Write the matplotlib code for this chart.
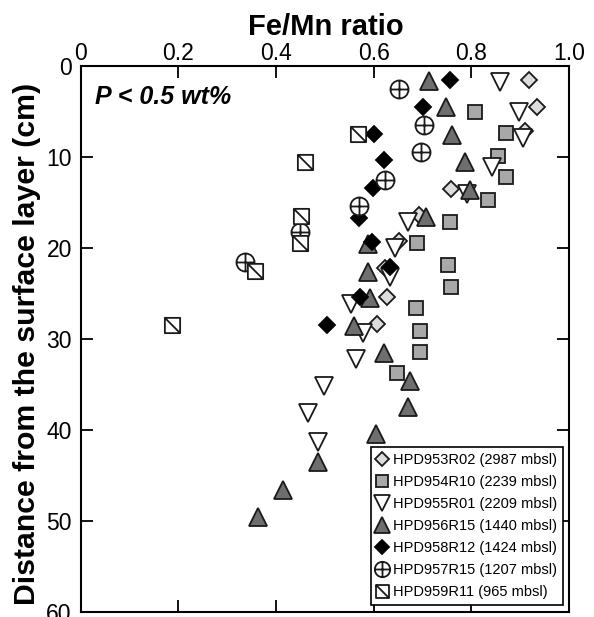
import matplotlib.pyplot as plt
from matplotlib.path import Path

plt.rcParams['font.family'] = ['Liberation Sans', 'DejaVu Sans']

# Fe/Mn ratio (x) and depth in cm (y) for each dive
hpd953_x = [0.917, 0.934, 0.909, 0.759, 0.693, 0.652, 0.623, 0.628, 0.607]
hpd953_y = [1.5, 4.5, 7.1, 13.5, 16.4, 19.2, 22.2, 25.4, 28.4]

hpd954_x = [0.808, 0.871, 0.854, 0.871, 0.835, 0.756, 0.688, 0.752, 0.759,
            0.686, 0.695, 0.695, 0.648]
hpd954_y = [5.1, 7.4, 9.9, 12.2, 14.7, 17.1, 19.5, 21.9, 24.3,
            26.6, 29.1, 31.4, 33.8]

hpd955_x = [0.858, 0.897, 0.905, 0.842, 0.791, 0.671, 0.644, 0.633, 0.553,
            0.579, 0.563, 0.499, 0.466, 0.486]
hpd955_y = [1.8, 5.1, 7.9, 11.1, 14.1, 17.2, 20.0, 23.2, 26.2,
            29.3, 32.2, 35.2, 38.2, 41.3]

hpd956_x = [0.713, 0.747, 0.760, 0.786, 0.798, 0.708, 0.588, 0.588, 0.593,
            0.559, 0.621, 0.674, 0.670, 0.604, 0.485, 0.414, 0.363]
hpd956_y = [1.6, 4.5, 7.6, 10.6, 13.6, 16.6, 19.6, 22.6, 25.5,
            28.6, 31.6, 34.6, 37.5, 40.5, 43.5, 46.6, 49.6]

hpd958_x = [0.756, 0.701, 0.601, 0.621, 0.599, 0.570, 0.597, 0.633, 0.572, 0.505]
hpd958_y = [1.5, 4.5, 7.5, 10.3, 13.4, 16.7, 19.4, 22.1, 25.4, 28.5]

hpd957_x = [0.652, 0.703, 0.697, 0.624, 0.569, 0.448, 0.337]
hpd957_y = [2.5, 6.5, 9.4, 12.5, 15.4, 18.3, 21.5]

hpd959_x = [0.567, 0.459, 0.452, 0.448, 0.357, 0.187]
hpd959_y = [7.5, 10.5, 16.5, 19.5, 22.5, 28.5]

labels = ['HPD953R02 (2987 mbsl)', 'HPD954R10 (2239 mbsl)', 'HPD955R01 (2209 mbsl)',
          'HPD956R15 (1440 mbsl)', 'HPD958R12 (1424 mbsl)', 'HPD957R15 (1207 mbsl)',
          'HPD959R11 (965 mbsl)']

# custom markers: circle with a cross, square with a diagonal
M, L, C = Path.MOVETO, Path.LINETO, Path.CLOSEPOLY
circ = Path.unit_circle()
plus = Path([[-1, 0], [1, 0], [0, -1], [0, 1]], [M, L, M, L])
circle_plus = Path.make_compound_path(circ, plus)
sq_slash = Path([[-1, -1], [1, -1], [1, 1], [-1, 1], [-1, -1], [-1, 1], [1, -1]],
                [M, L, L, L, C, M, L])

ec = '#1a1a1a'
lw = 1.3

fig = plt.figure(figsize=(5.94, 6.17), dpi=100)
ax = fig.add_axes([0.136, 0.0085, 0.822, 0.8845])

ax.plot(hpd953_x, hpd953_y, ls='none', marker='D', ms=8, mfc='#dcdcdc', mec=ec, mew=lw, label=labels[0])
ax.plot(hpd954_x, hpd954_y, ls='none', marker='s', ms=10, mfc='#a8a8a8', mec=ec, mew=lw, label=labels[1])
ax.plot(hpd955_x, hpd955_y, ls='none', marker='v', ms=13, mfc='white', mec=ec, mew=lw, label=labels[2])
ax.plot(hpd956_x, hpd956_y, ls='none', marker='^', ms=13, mfc='#6e6e6e', mec=ec, mew=lw, label=labels[3])
ax.plot(hpd958_x, hpd958_y, ls='none', marker='D', ms=8, mfc='black', mec='black', mew=lw, label=labels[4])
ax.plot(hpd957_x, hpd957_y, ls='none', marker=circle_plus, ms=13, mfc='white', mec=ec, mew=lw, label=labels[5])
ax.plot(hpd959_x, hpd959_y, ls='none', marker=sq_slash, ms=11, mfc='white', mec=ec, mew=lw, label=labels[6])

ax.set_xlim(0, 1.0)
ax.set_ylim(60, 0)
ax.set_xticks([0, 0.2, 0.4, 0.6, 0.8, 1.0])
ax.set_xticklabels(['0', '0.2', '0.4', '0.6', '0.8', '1.0'])
ax.set_yticks(range(0, 61, 10))
ax.tick_params(direction='in', top=True, bottom=True, left=True, right=True,
               labeltop=True, labelbottom=False, length=8.5, width=1.3, labelsize=16.5)
ax.tick_params(axis='x', pad=0.5)
ax.tick_params(axis='y', pad=6.5)
for s in ax.spines.values():
    s.set_linewidth(1.5)

ax.xaxis.set_label_position('top')
ax.set_xlabel('Fe/Mn ratio', fontsize=21, fontweight='bold', va='center')
ax.xaxis.set_label_coords(0.501, 1.071)
ax.set_ylabel('Distance from the surface layer (cm)', fontsize=21.8, fontweight='bold', va='center')
ax.yaxis.set_label_coords(-0.11, 0.49)

ax.text(0.029, 0.966, 'P < 0.5 wt%', transform=ax.transAxes, fontsize=18,
        fontweight='bold', fontstyle='italic', va='top', ha='left')

leg = ax.legend(loc='lower right', fontsize=10.5, markerscale=0.85, handlelength=0.7,
                handletextpad=0.4, labelspacing=0.55, borderpad=0.4, borderaxespad=0,
                fancybox=False, edgecolor='black', framealpha=1,
                bbox_to_anchor=(0.988, 0.013))
leg.get_frame().set_linewidth(1.2)

fig.savefig('out.png', dpi=100)
